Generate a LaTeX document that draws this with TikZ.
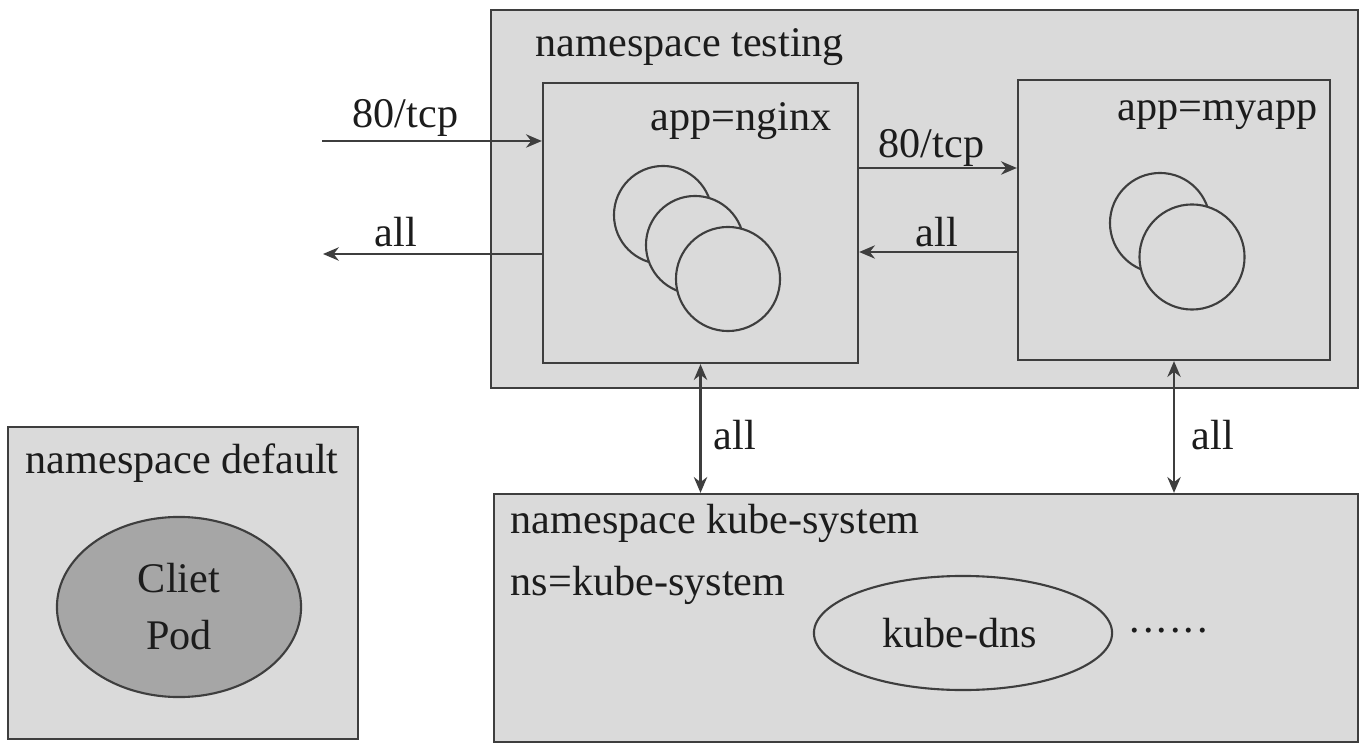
\documentclass[tikz,border=0pt]{standalone}
\usepackage{fontspec}
\setmainfont{Liberation Serif}
\usetikzlibrary{arrows.meta,calc,shapes.geometric}
\definecolor{boxfill}{RGB}{218,218,218}
\definecolor{podfill}{RGB}{166,166,166}
\definecolor{linec}{RGB}{62,62,62}
\definecolor{textc}{RGB}{28,28,28}
\begin{document}
\begin{tikzpicture}[x=0.01cm,y=-0.01cm,
  nsbox/.style={draw=linec,fill=boxfill,line width=0.6pt,rectangle,inner sep=0pt},
  podc/.style={draw=linec,fill=boxfill,line width=0.6pt,circle,inner sep=0pt},
  lbl/.style={font=\fontsize{12}{14}\selectfont,text=textc,inner sep=0pt},
  conn/.style={draw=linec,line width=0.6pt,-{Stealth[length=4.5pt,width=3.8pt]}},
  dconn/.style={draw=linec,line width=0.6pt,{Stealth[length=4.5pt,width=3.8pt]}-{Stealth[length=4.5pt,width=3.8pt]}}]
\useasboundingbox (0,0) rectangle (1370,752);
\fill[white] (0,0) rectangle (1370,752);

% namespace testing
\node[nsbox,minimum width=8.67cm,minimum height=3.78cm] (testing) at (924.5,199) {};
\node[lbl,anchor=base west] (ttesting) at (535,57) {namespace testing};

% app=nginx
\node[nsbox,minimum width=3.15cm,minimum height=2.80cm] (nginx) at (700.5,223) {};
\node[lbl,anchor=base west] (tnginx) at (650,131) {app=nginx};
\node[podc,minimum size=0.98cm] (n1) at (663,215) {};
\node[podc,minimum size=0.98cm] (n2) at (695,245) {};
\node[podc,minimum size=1.04cm] (n3) at (728,279) {};

% app=myapp
\node[nsbox,minimum width=3.12cm,minimum height=2.80cm] (myapp) at (1174,220) {};
\node[lbl,anchor=base west] (tmyapp) at (1117,121) {app=myapp};
\node[podc,minimum size=1.00cm] (m1) at (1160,223) {};
\node[podc,minimum size=1.05cm] (m2) at (1192,257) {};

% namespace default
\node[nsbox,minimum width=3.50cm,minimum height=3.12cm] (default) at (183,583) {};
\node[lbl,anchor=base west] (tdefault) at (25,473) {namespace default};
\node[draw=linec,fill=podfill,line width=0.6pt,ellipse,inner sep=0pt,minimum width=2.44cm,minimum height=1.80cm] (client) at (179,607) {};
\node[lbl,anchor=base] (tcliet) at (179,592) {Cliet};
\node[lbl,anchor=base] (tpod) at (179,649) {Pod};

% namespace kube-system
\node[nsbox,minimum width=8.64cm,minimum height=2.48cm] (ks) at (926,618) {};
\node[lbl,anchor=base west] (tks) at (510,533) {namespace kube-system};
\node[lbl,anchor=base west] (tns) at (510,595) {ns=kube-system};
\node[draw=linec,fill=boxfill,line width=0.6pt,ellipse,inner sep=0pt,minimum width=2.98cm,minimum height=1.14cm] (dns) at (963,633) {};
\node[lbl,anchor=base] (tdns) at (960,647) {kube-dns};
\node[lbl,anchor=base west,font=\fontsize{12}{14}\selectfont\addfontfeatures{LetterSpace=7}] (tdots) at (1129,632) {......};

% connectors
\coordinate (in80) at (322,141);
\coordinate (outall) at (323,254);
\coordinate (r80) at (858,168);
\coordinate (rall) at (858,252);
\draw[conn] (in80) -- (in80 -| nginx.west);
\node[lbl,anchor=base west] (l1) at (352,128) {80/tcp};
\draw[conn] (outall -| nginx.west) -- (outall);
\node[lbl,anchor=base west] (l2) at (374,247) {all};
\draw[conn] (r80 -| nginx.east) -- (r80 -| myapp.west);
\node[lbl,anchor=base west] (l3) at (878,158) {80/tcp};
\draw[conn] (rall -| myapp.west) -- (rall -| nginx.east);
\node[lbl,anchor=base west] (l4) at (915,247) {all};
\draw[dconn] (nginx.south) -- (nginx.south |- ks.north);
\node[lbl,anchor=base west] (l5) at (713,449) {all};
\draw[dconn] (myapp.south) -- (myapp.south |- ks.north);
\node[lbl,anchor=base west] (l6) at (1191,449) {all};
\end{tikzpicture}
\end{document}
